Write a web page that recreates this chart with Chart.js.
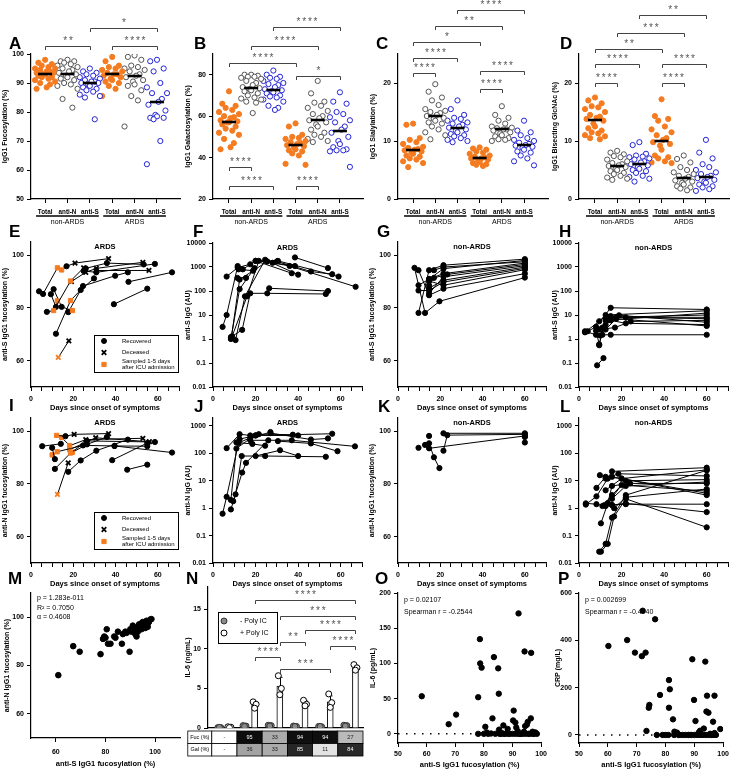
<!DOCTYPE html>
<html>
<head>
<meta charset="utf-8">
<script src="https://cdn.jsdelivr.net/npm/chart.js@4.4.0/dist/chart.umd.min.js"></script>
<style>
  html, body { margin: 0; padding: 0; background: #fff; }
  #fig { position: relative; width: 732px; height: 769px; overflow: hidden; background: #fff; }
  #fig canvas { position: absolute; }
  .letter { position: absolute; font: bold 17px "Liberation Sans Narrow", "Liberation Sans", Arial, sans-serif; line-height: 1; color: #000; }
</style>
</head>
<body>
<div id="fig"></div>
<script>
// Colours used across the figure
const C_OR = '#f47b20', C_BL = '#2323d6', C_GR = '#555555';

// ---- A-D: IgG1 glycosylation per group
const groupCats = ['Total', 'anti-N', 'anti-S', 'Total', 'anti-N', 'anti-S'];
const groupNames = ['non-ARDS', 'ARDS'];

const fucA = [
  [98, 97, 96.5, 96, 95.5, 95, 95, 94.5, 94, 94, 93.5, 93.5, 93, 93, 92.5, 92, 92, 91.5, 91, 90.5, 90, 89.5, 88.5, 88],
  [98, 97.5, 97.5, 97, 96.5, 96, 95.5, 95, 94.5, 94, 93.5, 93, 92.5, 92, 91.5, 91, 90, 89.5, 89, 88, 84.5, 81.5],
  [95, 94, 93.5, 93, 92.5, 92, 91.5, 91, 90.5, 90.5, 90, 90, 89.5, 89, 88.5, 88, 87.5, 87, 86, 85.5, 85, 77.5],
  [99, 97.5, 96, 95.5, 95, 94.5, 94, 93.5, 93, 93, 92.5, 92, 91.5, 91, 90.5, 90, 89, 88, 85.5],
  [99.5, 99, 98, 96, 95.5, 95, 94.5, 94, 93, 92.5, 92, 91, 90.5, 89.5, 89, 87.5, 85.5, 84, 75],
  [98, 97.5, 95, 94, 90, 88.5, 86.5, 86.5, 84.5, 83.5, 82.5, 80.5, 79, 78.5, 78, 78, 77.5, 70, 62]
];
const galB = [
  [72, 66, 65, 64, 63, 62, 61, 60, 59.5, 59, 58, 57.5, 57, 57, 56, 55, 54, 53, 52, 51, 49, 47, 45, 44],
  [80, 80, 79.5, 79, 79, 78.5, 78, 77, 76, 75, 74, 73.5, 73, 72.5, 72, 71, 70, 69, 68.5, 68, 67, 66.5, 61.5],
  [82, 80, 79, 78.5, 78, 77, 76, 75.5, 75, 74, 73, 72.5, 72, 71.5, 71, 70, 69.5, 69, 68, 67, 65, 64, 63],
  [56.5, 55, 51, 50, 49.5, 49, 48, 47.5, 47, 46.5, 46, 45.5, 45, 44, 43.5, 43, 42, 41, 37, 36.5],
  [77, 71, 67, 66.5, 65, 64, 62.5, 61, 60, 59, 58, 57, 56, 55, 53.5, 52, 51, 50, 49, 48, 47.5],
  [71.5, 67, 66, 62, 61, 59.5, 58, 57, 55, 53.5, 52, 50, 48, 46.5, 45, 44, 43.5, 43.5, 43, 35.5]
];
const siaC = [
  [13, 12.8, 10.5, 10.2, 9.8, 9.5, 9, 8.8, 8.6, 8.5, 8.4, 8.2, 8, 7.8, 7.5, 7.3, 7, 6.8, 6.5, 6.2, 5.5],
  [19.8, 18.5, 17.5, 17, 16.2, 15.5, 15.2, 15, 14.8, 14.5, 14.3, 14, 13.8, 13.5, 13.2, 13, 12.5, 12, 11.5, 11, 10.3],
  [17, 15.5, 14.5, 14, 13.8, 13.5, 13.2, 13, 12.8, 12.5, 12.3, 12, 11.8, 11.5, 11.2, 11, 10.8, 10.5, 10.2, 10, 9.8],
  [8.9, 8.7, 8.5, 8.2, 8, 7.8, 7.5, 7.3, 7.2, 7, 7, 6.8, 6.6, 6.4, 6.2, 6, 5.9, 5.7],
  [16, 14.5, 14, 13.5, 13, 12.5, 12.3, 12.2, 12, 12, 11.8, 11.5, 11.3, 11, 10.8, 10.5, 10.3, 10.2, 10],
  [13.5, 11.8, 11.5, 11, 10.5, 10.2, 10, 9.7, 9.5, 9.3, 9.2, 9, 8.8, 8.5, 8.2, 8, 7.5, 7, 6.5, 5.8]
];
const bisD = [
  [17.5, 17, 16.5, 16, 15.8, 15.5, 15, 14.5, 14.2, 14, 13.8, 13.5, 13, 12.5, 12.2, 11.8, 11.5, 11.3, 11, 10.8, 10.5, 10.3],
  [8.3, 8, 7.7, 7.4, 7.2, 6.8, 6.5, 6.2, 6, 5.8, 5.7, 5.5, 5.2, 5, 4.8, 4.5, 4.3, 4, 3.7, 3.5, 3.3],
  [9.8, 9.3, 7.8, 7.5, 7.3, 7.2, 7, 6.8, 6.5, 6.3, 6, 5.8, 5.5, 5.2, 5, 4.8, 4.5, 4, 3.8, 3.5, 3],
  [17.2, 14.3, 13.8, 13.5, 12.5, 12, 11.5, 11, 10.5, 10.2, 9.8, 9.5, 9.2, 8.5, 7.5, 7.2, 7, 6.5, 6.3, 6.2],
  [7.5, 6.9, 6.3, 5.5, 5, 4.6, 4.3, 4, 3.8, 3.5, 3.2, 3, 2.8, 2.5, 2.2, 2, 1.8, 1.5],
  [10.2, 8, 7, 6, 5.5, 5, 4.6, 4.3, 4, 3.8, 3.6, 3.3, 3, 2.8, 2.5, 2.2, 2, 1.7, 1.4]
];

// significance brackets: [from category, to category, height (data units), label]
const bracketsA = [[1, 3, 102.8, '**'], [4, 6, 102.8, '****'], [3, 6, 109, '*']];
const bracketsB = [[3, 6, 103, '****'], [2, 5, 94, '****'], [1, 4, 85.8, '****'], [4, 6, 79.5, '*'],
  [1, 2, 35.6, '****'], [1, 3, 26.5, '****'], [4, 5, 26.5, '****']];
const bracketsC = [[1, 2, 21.8, '****'], [1, 3, 24.3, '****'], [1, 4, 27.1, '*'], [2, 5, 29.8, '**'],
  [3, 6, 32.6, '****'], [4, 6, 22.1, '****'], [4, 5, 19, '****']];
const bracketsD = [[1, 2, 20, '****'], [1, 3, 23.3, '****'], [4, 6, 23.3, '****'], [4, 5, 20, '****'],
  [1, 4, 25.9, '**'], [2, 5, 28.6, '***'], [3, 6, 31.7, '**']];

// ---- E-L: per-patient time courses  [day, value, kind]  kind: r recovered, x deceased, o / ox sampled 1-5 days after ICU
const ardsSFuc = [
  [[3.8, 86.3, 'r'], [5.7, 85.3, 'r'], [12.5, 95.2, 'o']],
  [[7.5, 78.5, 'r'], [10.7, 79, 'o'], [18.7, 90.2, 'o'], [24.9, 95.2, 'x']],
  [[9.4, 85.2, 'r'], [11.8, 80.4, 'r'], [12.5, 82.7, 'o']],
  [[10.7, 87.1, 'r'], [14.5, 80.4, 'r'], [19.6, 79, 'o']],
  [[11.8, 70.2, 'r'], [18.7, 82.8, 'o'], [23.5, 86.8, 'r'], [29.8, 91.2, 'r']],
  [[12.9, 61.2, 'ox'], [17.9, 67.5, 'x']],
  [[14.5, 94.4, 'o'], [16.8, 95.8, 'r'], [20.8, 97, 'x'], [36.7, 98.7, 'x']],
  [[17.6, 78.4, 'r'], [24.6, 88.3, 'r'], [39.8, 92.2, 'r'], [45.8, 93.5, 'r']],
  [[19.1, 90, 'x'], [25.9, 93.5, 'x'], [30.9, 95, 'x'], [52.9, 97.3, 'x']],
  [[24.9, 94, 'r'], [30.9, 93.5, 'r'], [58.6, 96.7, 'r']],
  [[25.9, 95, 'r'], [35.9, 97, 'r'], [53.3, 96.5, 'r']],
  [[30.9, 94.2, 'x'], [55.8, 94.2, 'x']],
  [[39.2, 81.4, 'r'], [55, 87.3, 'r']],
  [[46.1, 89.9, 'r'], [66.7, 93.5, 'r']]
];
const ardsSIgG = [
  [[4.5, 3.2], [6.4, 10], [11.6, 1100]],
  [[6.4, 400], [11.6, 950], [17.5, 1300]],
  [[8.4, 1.0], [12.5, 120], [19.5, 900]],
  [[8.4, 1.2], [13.7, 2.4], [17.5, 80], [25.5, 80], [53, 75]],
  [[8.6, 1.1], [12.5, 300], [25.5, 1700]],
  [[10.6, 0.9], [15, 60], [24.5, 2000], [40, 480]],
  [[9, 1.3], [16, 60], [21.5, 1800], [38.5, 1100]],
  [[11.5, 350], [15.5, 350]],
  [[14, 800], [20, 1800], [30.5, 1800], [59, 400]],
  [[26.4, 130], [54, 100]],
  [[20, 1800], [37, 550]],
  [[38.5, 2500], [54, 900]],
  [[30, 1700], [46, 650], [56, 500]],
  [[28, 1500], [36, 1100], [67, 150]],
  [[12, 800], [18.8, 700]]
];
const nonSFuc = [
  [[7.8, 95.2], [12.8, 78.1], [19.6, 82.5], [60, 91.5]],
  [[9.7, 94.3], [14.7, 84.8], [21.5, 87.3], [60, 93]],
  [[9.7, 78.1], [14.7, 94.3], [21.5, 96.2], [60, 98.5]],
  [[9.7, 88.6], [14.7, 90.9], [21.5, 94.9], [60, 98]],
  [[9.7, 86.6], [14.7, 86.6], [21.5, 89.8], [60, 95]],
  [[14.7, 88.6], [17, 91.4], [23.3, 92.7], [60, 96.5]],
  [[17, 94.3], [21.5, 95.5], [60, 97.5]],
  [[14.7, 85.5], [21.5, 91.8], [60, 96]],
  [[14.7, 90.2], [21.5, 88.6], [60, 94.5]],
  [[14.7, 87.5], [21.5, 90.5], [60, 95.5]],
  [[14.7, 91], [21.5, 93], [60, 97]]
];
const nonSIgG = [
  [[2.8, 2.1], [8, 1.5], [14.9, 1.5], [60, 1.5]],
  [[4.1, 2.1], [8, 3.2], [14.9, 20], [60, 17]],
  [[2.8, 1.9], [9.5, 5.5], [12.5, 10], [60, 15]],
  [[8, 2.2], [9.5, 0.6], [12.5, 6], [60, 12]],
  [[9.5, 0.55], [11, 3.0], [14.9, 8], [60, 10]],
  [[8.5, 0.08], [11.5, 0.16]],
  [[10, 1.4], [12.5, 4], [17.5, 8], [60, 8]],
  [[11, 1.5], [14.9, 9], [22, 8], [60, 7]],
  [[9.5, 2.5], [16.9, 3], [24.3, 5.4], [60, 6]],
  [[12.5, 7], [18.8, 9.7], [60, 5]],
  [[14.9, 6], [22, 4.5], [60, 4]],
  [[12.5, 2.5], [17.5, 7], [60, 3.5]]
];
const ardsNFuc = [
  [[5.3, 94.3, 'r'], [14.1, 95.2, 'r']],
  [[10, 93.7, 'r'], [11.3, 89.4, 'r']],
  [[12.1, 98.4, 'o'], [16.3, 98.1, 'r'], [20.4, 98.8, 'x'], [36.7, 99.1, 'x']],
  [[14.5, 97.6, 'o'], [18.3, 94.5, 'o'], [25.9, 96.8, 'x'], [52.9, 97.3, 'x']],
  [[10, 91, 'o'], [12.4, 92.2, 'o'], [24.6, 94.6, 'r'], [39.5, 94.4, 'r'], [55, 94.3, 'r']],
  [[12.5, 76, 'ox'], [17.6, 88, 'x']],
  [[11.3, 85.7, 'r'], [18.7, 91.7, 'o'], [26.5, 96.3, 'r'], [58.6, 95.9, 'r']],
  [[17.6, 84.6, 'r'], [23.5, 88.9, 'r'], [30.9, 92.6, 'r'], [45.8, 96.8, 'r']],
  [[18.3, 93, 'o'], [30.6, 97.5, 'x'], [56, 96, 'x']],
  [[19.6, 92, 'o'], [26.5, 95, 'r'], [35.9, 97.8, 'r']],
  [[38.4, 89, 'r'], [55, 95.5, 'r']],
  [[45.5, 85.4, 'r'], [55, 87.3, 'r']],
  [[39.5, 94.4, 'r'], [66.7, 91.9, 'r']]
];
const ardsNIgG = [
  [[4.5, 0.63], [6.4, 2.6], [12, 240], [20, 450]],
  [[6.4, 155], [12.5, 500], [17.5, 450]],
  [[8.4, 0.9], [10.6, 3.2], [13.5, 80], [24.5, 80], [53, 75]],
  [[8.4, 2], [11, 150], [17.5, 350], [27, 600]],
  [[9.5, 1.8], [13.7, 20], [15.5, 45], [26, 300]],
  [[11, 250], [18.5, 220], [24.5, 190]],
  [[20, 80], [31.5, 130], [40, 80]],
  [[21.5, 500], [37.5, 480], [56, 520]],
  [[27, 550], [46, 320], [54, 350]],
  [[30.5, 280], [46, 230], [58.5, 120]],
  [[17.5, 300], [37, 300], [66.7, 180]],
  [[12.5, 330], [20, 450], [40, 450]]
];
const nonNFuc = [
  [[9.7, 93.7]],
  [[12.8, 94.8], [14.7, 93.5], [60, 98.2]],
  [[14.7, 95.4], [17, 90.1], [19.6, 86.0]],
  [[14.7, 98.2]],
  [[21.5, 92.6], [23.3, 98.5], [60, 98.8]],
  [[21.5, 99.2], [60, 99.2]],
  [[60, 97.8]],
  [[60, 95.7]]
];
const nonNIgG = [
  [[3.2, 1.5], [8.2, 1.4], [12.5, 1.2], [15.5, 1.3], [22, 1.4], [60, 1.4]],
  [[3.2, 1.35], [8.2, 2.7], [13.5, 12], [15.5, 22], [60, 30]],
  [[8.2, 5.5], [12.5, 14], [20, 12], [60, 25]],
  [[9.8, 16], [12.5, 12], [18.5, 18], [60, 15]],
  [[9.5, 0.026], [12.5, 0.05], [15.5, 0.45], [22, 3], [60, 24]],
  [[10.3, 0.026], [13.5, 0.05], [16.5, 0.5], [22, 2.2], [60, 0.2]],
  [[10.3, 0.28], [13.5, 1.5], [15.5, 6.5], [24, 8], [60, 8]],
  [[11, 1.2], [15.5, 3], [22, 10], [60, 11]],
  [[12, 1.3], [15.5, 1.3], [22, 1.5], [60, 0.72]],
  [[13.5, 1.5], [20, 7], [60, 4.2]],
  [[15.5, 2.2], [22, 6.5], [60, 9]],
  [[16.5, 1.0], [22, 2.5], [60, 5]],
  [[12.5, 4.5], [20, 12], [60, 3.5]],
  [[15.5, 14], [60, 3]]
];
const dayTicks = [0, 5, 10, 15, 20, 25, 30, 35, 40, 45, 50, 55, 60, 65, 70];
const dayLabels = [0, 20, 40, 60];
const logTicksS = [0.01, 0.1, 1, 10, 100, 1000, 10000];
const logTicksN = [0.01, 0.1, 1, 10, 100, 1000];

// ---- M: anti-S vs anti-N fucosylation
const mX = [61, 67, 69.6, 78, 79, 79.5, 80, 80.5, 81, 82, 83.5, 84, 85, 86.6, 87, 88, 88.5, 89.7, 90, 90.5,
  91, 91.5, 92, 92.5, 92.5, 93, 93.5, 94, 94.5, 94.5, 95, 95, 95.5, 96, 96, 96.5, 97, 97, 97.5, 98, 98.5, 91, 93, 96];
const mY = [76, 88, 85.7, 84.7, 91, 92, 91.5, 95, 89, 89, 92, 91.5, 94, 89, 93, 94, 93.5, 85.7, 95, 94,
  96.5, 95, 93, 92, 95.5, 96, 97, 96, 95, 97.5, 98, 96.5, 97, 98, 96, 98.5, 97.5, 96, 98, 99, 99.2, 94.5, 94, 95.5];

// ---- N: IL-6 release
const nGroups = [1, 2, 3, 4, 5, 6];
const nMinusBar = [0.05, 0.25, 0.3, 0.2, 0.2, 0.3];
const nPlusBar = [0.1, 2.9, 5.3, 3.1, 3.3, 7.6];
const nPlusErr = [0.05, 0.4, 1.1, 0.35, 0.75, 0.35];
const nMinusPts = [[0.05, 0.05, 0.08], [0.3, 0.25, 0.2], [0.35, 0.3, 0.25], [0.25, 0.2, 0.2], [0.2, 0.15, 0.2], [0.35, 0.3, 0.25]];
const nPlusPts = [[0.15, 0.1, 0.05], [3.3, 3.0, 2.5], [6.6, 5.0, 4.2], [3.5, 3.0, 2.8], [4.3, 3.2, 2.6], [8.0, 7.6, 7.3]];
const fucRow = [null, 95, 33, 94, 94, 27];
const galRow = [null, 36, 33, 85, 11, 84];
const bracketsN = [[2.2, 6.2, 16.2, '****'], [3.2, 6.2, 14.2, '***'], [4.2, 6.2, 12.4, '****'], [3.2, 4.2, 10.9, '**'],
  [5.2, 6.2, 10.4, '****'], [2.2, 3.2, 9.0, '****'], [3.2, 5.2, 7.5, '***']];

// ---- O, P: IL-6 / CRP vs anti-S fucosylation
const oX = [58.3, 67.7, 70.3, 78, 78.6, 78.7, 79.2, 80.5, 81, 82.5, 83, 83.5, 85, 85.2, 85.3, 86.8, 86.3, 88.3, 90.2, 90.4,
  91, 91.3, 91.8, 92.1, 94, 94.4, 94.2, 95, 95.3, 96.5, 96.4, 97, 98,
  78, 80, 81.5, 84, 85.5, 86, 87, 87.5, 88.5, 89, 90, 91, 92, 92.5, 93, 93.5, 94.5, 95.5, 96, 97, 97.5, 98.5];
const oY = [53.4, 13.7, 27.3, 52, 134.5, 100, 94, 10, 2, 0.5, 22, 109, 93, 57, 6, 12, 1, 7, 19, 33,
  16, 9, 4, 171, 3, 11, 117, 13, 17, 115, 22, 3, 2,
  0, 0, 0, 0, 0, 0, 0, 0, 0, 0, 0, 0, 0, 0, 0, 0, 0, 0, 0, 0, 0, 0];
const pX = [60.2, 66.7, 69.4, 72.1, 71.8, 73.1, 76.4, 74.2, 74.4, 73.4, 78.1, 81.2, 81.5, 81.2, 82.6, 83.1, 89.3, 89.9, 90.4, 93.8,
  94.4, 94.2, 94.9, 93.3, 97, 96.5, 99, 91.5, 92, 95.5, 97, 84,
  77, 79, 80, 81, 83, 84.5, 85, 86, 87, 88, 88.5, 89, 90, 91, 92, 93, 94, 95, 96, 96.5, 97.5];
const pY = [376, 401, 348, 525, 333, 348, 489, 115, 127, 17, 169, 232, 193, 115, 66, 14, 320, 148, 59, 310,
  166, 99, 94, 27, 166, 56, 25, 10, 18, 5, 8, 10,
  0, 0, 0, 0, 0, 0, 0, 0, 0, 0, 0, 0, 0, 0, 0, 0, 0, 0, 0, 0, 0];

// ---------------------------------------------------------------
Chart.defaults.font.family = '"Liberation Sans", Arial, sans-serif';
Chart.defaults.color = '#000';
Chart.defaults.animation = false;

const FONT = '"Liberation Sans", Arial, sans-serif';
const grid = { display: true, drawOnChartArea: false, drawTicks: true, tickLength: 4, tickColor: '#000', tickWidth: 1, color: '#000' };
const border = { display: true, color: '#000', width: 1.2 };
const tickFont = { size: 7, weight: 'bold' };
const titleFont = { size: 7, weight: 'bold' };

// extra drawing: brackets, medians, group labels, notes, legend boxes, error bars, table
const decor = {
  id: 'decor',
  beforeDatasetsDraw(chart, args, o) {
    if (!o.errors) return;
    const { ctx } = chart, sx = chart.scales.x, sy = chart.scales.y;
    ctx.save();
    ctx.strokeStyle = '#000'; ctx.lineWidth = 1;
    o.errors.forEach(e => {
      const x = Math.round(sx.getPixelForValue(e.x)) + 0.5;
      const y0 = sy.getPixelForValue(Math.max(0, e.y - e.e)), y1 = sy.getPixelForValue(e.y + e.e);
      ctx.beginPath();
      ctx.moveTo(x, y0); ctx.lineTo(x, y1);
      ctx.moveTo(x - 2, y1); ctx.lineTo(x + 2, y1);
      ctx.stroke();
    });
    ctx.restore();
  },
  afterDraw(chart, args, o) {
    const { ctx, chartArea: a } = chart;
    const sx = chart.scales.x, sy = chart.scales.y;
    const px = v => sx.getPixelForValue(v), py = v => sy.getPixelForValue(v);
    ctx.save();
    if (o.medians) {
      ctx.strokeStyle = '#000'; ctx.lineWidth = 2.6;
      chart.data.datasets.forEach(ds => {
        if (ds.median == null) return;
        const x = px(ds.cat), y = Math.round(py(ds.median));
        ctx.beginPath(); ctx.moveTo(x - 7, y); ctx.lineTo(x + 7, y); ctx.stroke();
      });
    }
    if (o.brackets) {
      ctx.strokeStyle = '#444'; ctx.fillStyle = '#555'; ctx.lineWidth = 1;
      ctx.font = '10px ' + FONT; ctx.textAlign = 'center'; ctx.textBaseline = 'alphabetic';
      if ('letterSpacing' in ctx) ctx.letterSpacing = '1.8px';
      o.brackets.forEach(([x0, x1, yv, lab]) => {
        const a0 = Math.round(px(x0)) + 0.5, a1 = Math.round(px(x1)) + 0.5, y = Math.round(py(yv)) + 0.5;
        ctx.beginPath();
        ctx.moveTo(a0, y + 3.5); ctx.lineTo(a0, y); ctx.lineTo(a1, y); ctx.lineTo(a1, y + 3.5);
        ctx.stroke();
        ctx.fillText(lab, (a0 + a1) / 2 + 0.9, y - 2.5);
      });
      if ('letterSpacing' in ctx) ctx.letterSpacing = '0px';
    }
    if (o.groups) {
      ctx.fillStyle = '#000'; ctx.strokeStyle = '#000'; ctx.lineWidth = 1.6;
      ctx.font = '7px ' + FONT; ctx.textAlign = 'center'; ctx.textBaseline = 'middle';
      o.groups.forEach(([i0, i1, name]) => {
        const a0 = px(i0) - 9, a1 = px(i1) + 9, y = a.bottom + 17;
        ctx.beginPath(); ctx.moveTo(a0, y); ctx.lineTo(a1, y); ctx.stroke();
        ctx.fillText(name, (a0 + a1) / 2, a.bottom + 23.5);
      });
    }
    (o.texts || []).forEach(t => {
      ctx.font = (t.bold ? 'bold ' : '') + (t.size || 7) + 'px ' + FONT;
      ctx.fillStyle = '#000'; ctx.textBaseline = 'middle';
      ctx.textAlign = t.x === 'c' ? 'center' : 'left';
      ctx.fillText(t.t, t.x === 'c' ? (a.left + a.right) / 2 : a.left + t.x, a.top + t.y);
    });
    if (o.legend) {
      const L = o.legend, x0 = a.left + L.x, y0 = a.top + L.y;
      ctx.fillStyle = '#fff'; ctx.fillRect(x0, y0, L.w, L.h);
      ctx.strokeStyle = '#000'; ctx.lineWidth = 1; ctx.strokeRect(x0 + 0.5, y0 + 0.5, L.w, L.h);
      L.items.forEach(it => {
        ctx.fillStyle = it.fill; ctx.strokeStyle = it.stroke; ctx.lineWidth = it.bw;
        Chart.helpers.drawPoint(ctx, { pointStyle: it.style, radius: it.r, borderWidth: it.bw, rotation: 0 }, x0 + L.mx, y0 + it.y);
        ctx.fillStyle = '#000'; ctx.font = L.font; ctx.textAlign = 'left'; ctx.textBaseline = 'middle';
        it.lines.forEach((s, k) => ctx.fillText(s, x0 + L.tx, y0 + it.y + (k - (it.lines.length - 1) / 2) * L.lh));
      });
    }
    if (o.table) {
      const T = o.table;
      ctx.font = '5.5px ' + FONT; ctx.textAlign = 'center'; ctx.textBaseline = 'middle'; ctx.lineWidth = 0.8;
      T.rows.forEach((row, r) => {
        const y0 = a.bottom + T.top + r * T.rowH;
        const lx1 = px(0.5), lx0 = lx1 - T.labelW;
        ctx.fillStyle = '#fff'; ctx.fillRect(lx0, y0, lx1 - lx0, T.rowH);
        ctx.strokeStyle = '#000'; ctx.strokeRect(lx0, y0, lx1 - lx0, T.rowH);
        ctx.fillStyle = '#000'; ctx.fillText(row.label, (lx0 + lx1) / 2, y0 + T.rowH / 2);
        row.vals.forEach((v, i) => {
          const c0 = px(i + 0.5), c1 = px(i + 1.5);
          const g = v == null ? 255 : Math.round(255 * (1 - v / 100));
          ctx.fillStyle = 'rgb(' + g + ',' + g + ',' + g + ')';
          ctx.fillRect(c0, y0, c1 - c0, T.rowH);
          ctx.strokeStyle = '#000'; ctx.strokeRect(c0, y0, c1 - c0, T.rowH);
          ctx.fillStyle = g < 110 ? '#fff' : '#222';
          ctx.fillText(v == null ? '-' : String(v), (c0 + c1) / 2, y0 + T.rowH / 2);
        });
      });
    }
    ctx.restore();
  }
};

const fig = document.getElementById('fig');

function addCanvas(box) {
  const c = document.createElement('canvas');
  c.width = box.w; c.height = box.h;
  c.style.left = box.x + 'px'; c.style.top = box.y + 'px';
  c.style.width = box.w + 'px'; c.style.height = box.h + 'px';
  fig.appendChild(c);
  return c;
}

function fitOf(box, area) {
  return {
    padding: { left: 0, top: area.t - box.y, right: box.x + box.w - area.r, bottom: 0 },
    xh: box.y + box.h - area.b,
    yw: area.l - box.x
  };
}

function yAxis(fit, o) {
  return {
    type: o.type || 'linear', min: o.min, max: o.max,
    afterBuildTicks: s => { s.ticks = o.ticks.map(v => ({ value: v })); },
    afterFit: s => { s.width = fit.yw; },
    ticks: { font: tickFont, color: '#000', padding: 3, autoSkip: false, callback: v => String(v) },
    grid, border,
    title: { display: true, text: o.title, font: titleFont, color: '#000', padding: { top: 1, bottom: 0 } }
  };
}

function xAxis(fit, o) {
  return {
    type: 'linear', min: o.min, max: o.max,
    afterBuildTicks: s => { s.ticks = o.ticks.map(v => ({ value: v })); },
    afterFit: s => { s.height = fit.xh; },
    ticks: { display: o.showTicks !== false, font: o.font || tickFont, color: '#000', padding: o.pad || 4, autoSkip: false, maxRotation: 0,
      callback: o.label || (v => String(v)) },
    grid: o.noTicks ? Object.assign({}, grid, { drawTicks: false }) : grid,
    border,
    title: { display: !!o.title, text: o.title || '', font: { size: 7.5, weight: 'bold' }, color: '#000', padding: { top: 0, bottom: 0 } }
  };
}

function makeChart(box, area, datasets, xo, yo, dec) {
  const fit = fitOf(box, area);
  return new Chart(addCanvas(box), {
    type: 'scatter',
    data: { datasets },
    options: {
      responsive: false, animation: false, devicePixelRatio: 1, events: [],
      layout: { autoPadding: false, padding: fit.padding },
      plugins: { legend: { display: false }, tooltip: { enabled: false }, decor: dec || {} },
      scales: { x: xAxis(fit, xo), y: yAxis(fit, yo) }
    },
    plugins: [decor]
  });
}

function median(v) {
  const s = [...v].sort((p, q) => p - q), n = s.length;
  return n % 2 ? s[(n - 1) / 2] : (s[n / 2 - 1] + s[n / 2]) / 2;
}

// horizontal spread of the dots inside one category
const spread = [0, -0.3, 0.3, -0.15, 0.15, -0.45, 0.45, -0.22, 0.22, 0.07, -0.38, 0.38, -0.07];
function swarm(vals, cat) {
  return [...vals].sort((p, q) => q - p).map((v, i) => ({ x: cat + spread[i % spread.length], y: v }));
}

const groupStyle = [
  { fill: C_OR, stroke: C_OR }, { fill: '#fff', stroke: C_GR }, { fill: '#fff', stroke: C_BL },
  { fill: C_OR, stroke: C_OR }, { fill: '#fff', stroke: C_GR }, { fill: '#fff', stroke: C_BL }
];

// ---- Row 1
const rowOne = [
  { vals: fucA, box: { x: 0, y: 0, w: 183, h: 228 }, area: { l: 31, t: 54, r: 180, b: 199 }, xr: [0.37, 7.03],
    y: { min: 50, max: 100, ticks: [50, 60, 70, 80, 90, 100], title: 'IgG1 Fucosylation (%)' }, br: bracketsA },
  { vals: galB, box: { x: 183, y: 0, w: 183, h: 228 }, area: { l: 213, t: 54, r: 363, b: 199 }, xr: [0.28, 7.04],
    y: { min: 20, max: 90, ticks: [20, 40, 60, 80], title: 'IgG1 Galactosylation (%)' }, br: bracketsB },
  { vals: siaC, box: { x: 368, y: 0, w: 182, h: 228 }, area: { l: 398, t: 54, r: 548, b: 199 }, xr: [0.32, 7.08],
    y: { min: 0, max: 25, ticks: [0, 10, 20], title: 'IgG1 Sialylation (%)' }, br: bracketsC },
  { vals: bisD, box: { x: 550, y: 0, w: 182, h: 228 }, area: { l: 579, t: 54, r: 729, b: 199 }, xr: [0.28, 7.04],
    y: { min: 0, max: 25, ticks: [0, 10, 20], title: 'IgG1 Bisecting GlcNAc (%)' }, br: bracketsD }
];
rowOne.forEach(p => {
  const sets = p.vals.map((v, i) => ({
    data: swarm(v, i + 1), cat: i + 1, median: median(v),
    pointRadius: 2.6, pointBorderWidth: 1,
    pointBackgroundColor: groupStyle[i].fill, pointBorderColor: groupStyle[i].stroke
  }));
  makeChart(p.box, p.area, sets,
    { min: p.xr[0], max: p.xr[1], ticks: [1, 2, 3, 4, 5, 6], label: v => groupCats[v - 1], font: { size: 6.3, weight: 'bold' }, pad: 5 },
    p.y,
    { medians: true, brackets: p.br, groups: [[1, 3, groupNames[0]], [4, 6, groupNames[1]]] });
});

// ---- Rows 2 and 3
const kindStyle = c => { const t = c.raw ? c.raw.t : 'r'; return t.includes('x') ? 'crossRot' : (t === 'o' ? 'rect' : 'circle'); };
const kindRadius = c => { const t = c.raw ? c.raw.t : 'r'; return t.includes('x') ? 3.2 : (t === 'o' ? 3 : 2.6); };
const kindColor = c => { const t = c.raw ? c.raw.t : 'r'; return t[0] === 'o' ? C_OR : '#000'; };
const kindWidth = c => { const t = c.raw ? c.raw.t : 'r'; return t.includes('x') ? 1.8 : 1; };

function patientSets(list) {
  return list.map(p => ({
    data: p.map(q => ({ x: q[0], y: q[1], t: q[2] || 'r' })),
    showLine: true, borderColor: '#000', borderWidth: 1,
    pointStyle: kindStyle, pointRadius: kindRadius, pointBackgroundColor: kindColor,
    pointBorderColor: kindColor, pointBorderWidth: kindWidth
  }));
}

const legendICU = {
  x: 63, w: 84, h: 37, mx: 10, tx: 28, lh: 6, font: '6px ' + FONT,
  items: [
    { style: 'circle', r: 2.5, fill: '#000', stroke: '#000', bw: 1, y: 6, lines: ['Recovered'] },
    { style: 'crossRot', r: 3.2, fill: '#000', stroke: '#000', bw: 1.8, y: 17.5, lines: ['Deceased'] },
    { style: 'rect', r: 3, fill: C_OR, stroke: C_OR, bw: 1, y: 29.5, lines: ['Sampled 1-5 days', 'after ICU admission'] }
  ]
};
const dayX = { min: 0, max: 70, ticks: dayTicks, label: v => dayLabels.includes(v) ? String(v) : '', title: 'Days since onset of symptoms' };

const timePanels = [
  { d: ardsSFuc, box: { x: 0, y: 232, w: 183, h: 180 }, area: { l: 31, t: 242, r: 180, b: 387 },
    y: { min: 50, max: 105, ticks: [60, 80, 100], title: 'anti-S IgG1 fucosylation (%)' }, name: 'ARDS', legend: 93 },
  { d: ardsSIgG, box: { x: 183, y: 232, w: 183, h: 180 }, area: { l: 213, t: 243, r: 363, b: 387 },
    y: { type: 'logarithmic', min: 0.01, max: 10000, ticks: logTicksS, title: 'anti-S IgG (AU)' }, name: 'ARDS' },
  { d: nonSFuc, box: { x: 367, y: 232, w: 183, h: 180 }, area: { l: 398, t: 242, r: 548, b: 387 },
    y: { min: 50, max: 105, ticks: [60, 80, 100], title: 'anti-S IgG1 fucosylation (%)' }, name: 'non-ARDS' },
  { d: nonSIgG, box: { x: 550, y: 232, w: 182, h: 180 }, area: { l: 579, t: 243, r: 728, b: 387 },
    y: { type: 'logarithmic', min: 0.01, max: 10000, ticks: logTicksS, title: 'anti-S IgG (AU)' }, name: 'non-ARDS' },
  { d: ardsNFuc, box: { x: 0, y: 408, w: 183, h: 180 }, area: { l: 31, t: 418, r: 180, b: 563 },
    y: { min: 50, max: 105, ticks: [60, 80, 100], title: 'anti-N IgG1 fucosylation (%)' }, name: 'ARDS', legend: 94 },
  { d: ardsNIgG, box: { x: 183, y: 408, w: 183, h: 180 }, area: { l: 213, t: 418, r: 363, b: 563 },
    y: { type: 'logarithmic', min: 0.01, max: 1950, ticks: logTicksN, title: 'anti-N IgG (AU)' }, name: 'ARDS' },
  { d: nonNFuc, box: { x: 367, y: 408, w: 183, h: 180 }, area: { l: 398, t: 418, r: 548, b: 563 },
    y: { min: 50, max: 105, ticks: [60, 80, 100], title: 'anti-N IgG1 fucosylation (%)' }, name: 'non-ARDS' },
  { d: nonNIgG, box: { x: 550, y: 408, w: 182, h: 180 }, area: { l: 579, t: 418, r: 728, b: 563 },
    y: { type: 'logarithmic', min: 0.01, max: 1950, ticks: logTicksN, title: 'anti-N IgG (AU)' }, name: 'non-ARDS' }
];
timePanels.forEach(p => {
  const dec = { texts: [{ t: p.name, x: 'c', y: 5, bold: true, size: 7.5 }] };
  if (p.legend) dec.legend = Object.assign({ y: p.legend }, legendICU);
  makeChart(p.box, p.area, patientSets(p.d), dayX, p.y, dec);
});

// ---- M
makeChart({ x: 2, y: 585, w: 181, h: 183 }, { l: 31, t: 593, r: 180, b: 738 },
  [{ data: mX.map((v, i) => ({ x: v, y: mY[i] })), pointRadius: 2.8, pointBackgroundColor: '#000', pointBorderColor: '#000' }],
  { min: 50, max: 110, ticks: [60, 80, 100], title: 'anti-S IgG1 fucosylation (%)', pad: 6 },
  { min: 50, max: 110, ticks: [60, 80, 100], title: 'anti-N IgG1 fucosylation (%)' },
  { texts: [{ t: 'p = 1.283e-011', x: 6, y: 5 }, { t: 'R² = 0.7050', x: 6, y: 15 }, { t: 'α = 0.4608', x: 6, y: 24 }] });

// ---- N
const plusSets = [], minusSets = [];
nGroups.forEach((g, i) => {
  nMinusPts[i].forEach((v, k) => minusSets.push({ x: g - 0.2 + [-0.06, 0.06, 0][k], y: v }));
  nPlusPts[i].forEach((v, k) => plusSets.push({ x: g + 0.2 + [-0.06, 0.06, 0][k], y: v }));
});
makeChart({ x: 183, y: 575, w: 183, h: 190 }, { l: 208, t: 587, r: 363, b: 728 },
  [
    { data: minusSets, pointRadius: 3, pointBackgroundColor: '#8a8a8a', pointBorderColor: '#333', pointBorderWidth: 1 },
    { data: plusSets, pointRadius: 3, pointBackgroundColor: '#fff', pointBorderColor: '#000', pointBorderWidth: 1 },
    { type: 'bar', data: nGroups.map((g, i) => ({ x: g - 0.2, y: nMinusBar[i] })), barThickness: 6, grouped: false,
      backgroundColor: '#fff', borderColor: '#000', borderWidth: 1 },
    { type: 'bar', data: nGroups.map((g, i) => ({ x: g + 0.2, y: nPlusBar[i] })), barThickness: 6, grouped: false,
      backgroundColor: '#fff', borderColor: '#000', borderWidth: 1 }
  ],
  { min: 0.35, max: 6.5, ticks: [], showTicks: false, noTicks: true },
  { min: 0, max: 17.8, ticks: [0, 5, 10, 15], title: 'IL-6 (ng/mL)' },
  {
    brackets: bracketsN,
    errors: nGroups.map((g, i) => ({ x: g + 0.2, y: nPlusBar[i], e: nPlusErr[i] })),
    legend: { x: 10, y: 25, w: 59, h: 31, mx: 6, tx: 22, lh: 7, font: '7px ' + FONT,
      items: [
        { style: 'circle', r: 3, fill: '#8a8a8a', stroke: '#333', bw: 1, y: 9, lines: ['- Poly IC'] },
        { style: 'circle', r: 3, fill: '#fff', stroke: '#000', bw: 1, y: 21, lines: ['+ Poly IC'] }
      ] },
    table: { top: 3, rowH: 12.5, labelW: 24, rows: [{ label: 'Fuc (%)', vals: fucRow }, { label: 'Gal (%)', vals: galRow }] }
  });

// ---- O and P
function zeroLine() {
  return { data: [{ x: 50, y: 0 }, { x: 100, y: 0 }], showLine: true, borderColor: '#000', borderWidth: 1.5,
    borderDash: [1.5, 6.5], pointRadius: 0 };
}
makeChart({ x: 368, y: 585, w: 182, h: 184 }, { l: 398, t: 593, r: 547, b: 743 },
  [{ data: oX.map((v, i) => ({ x: v, y: oY[i] })), pointRadius: 2.7, pointBackgroundColor: '#000', pointBorderColor: '#000' }, zeroLine()],
  { min: 50, max: 100, ticks: [50, 60, 70, 80, 90, 100], title: 'anti-S IgG1 fucosylation (%)', pad: 3 },
  { min: -13, max: 200, ticks: [0, 50, 100, 150, 200], title: 'IL-6 (pg/mL)' },
  { texts: [{ t: 'p = 0.02107', x: 6, y: 7 }, { t: 'Spearman r = -0.2544', x: 6, y: 19 }] });

makeChart({ x: 553, y: 585, w: 179, h: 184 }, { l: 579, t: 593, r: 727, b: 743 },
  [{ data: pX.map((v, i) => ({ x: v, y: pY[i] })), pointRadius: 2.7, pointBackgroundColor: '#000', pointBorderColor: '#000' }, zeroLine()],
  { min: 50, max: 100, ticks: [50, 60, 70, 80, 90, 100], title: 'anti-S IgG1 fucosylation (%)', pad: 3 },
  { min: -34, max: 600, ticks: [0, 200, 400, 600], title: 'CRP (mg/L)' },
  { texts: [{ t: 'p = 0.002699', x: 6, y: 7 }, { t: 'Spearman r = -0.4040', x: 6, y: 19 }] });

// panel letters
const letters = [['A', 9, 35], ['B', 194, 35], ['C', 376, 35], ['D', 560, 35],
  ['E', 9, 223], ['F', 193, 223], ['G', 377, 223], ['H', 559, 223],
  ['I', 9, 397], ['J', 194, 398], ['K', 378, 398], ['L', 560, 398],
  ['M', 8, 570], ['N', 186, 570], ['O', 375, 570], ['P', 558, 570]];
letters.forEach(([t, x, y]) => {
  const d = document.createElement('div');
  d.className = 'letter'; d.textContent = t;
  d.style.left = x + 'px'; d.style.top = y + 'px';
  fig.appendChild(d);
});
</script>
</body>
</html>
